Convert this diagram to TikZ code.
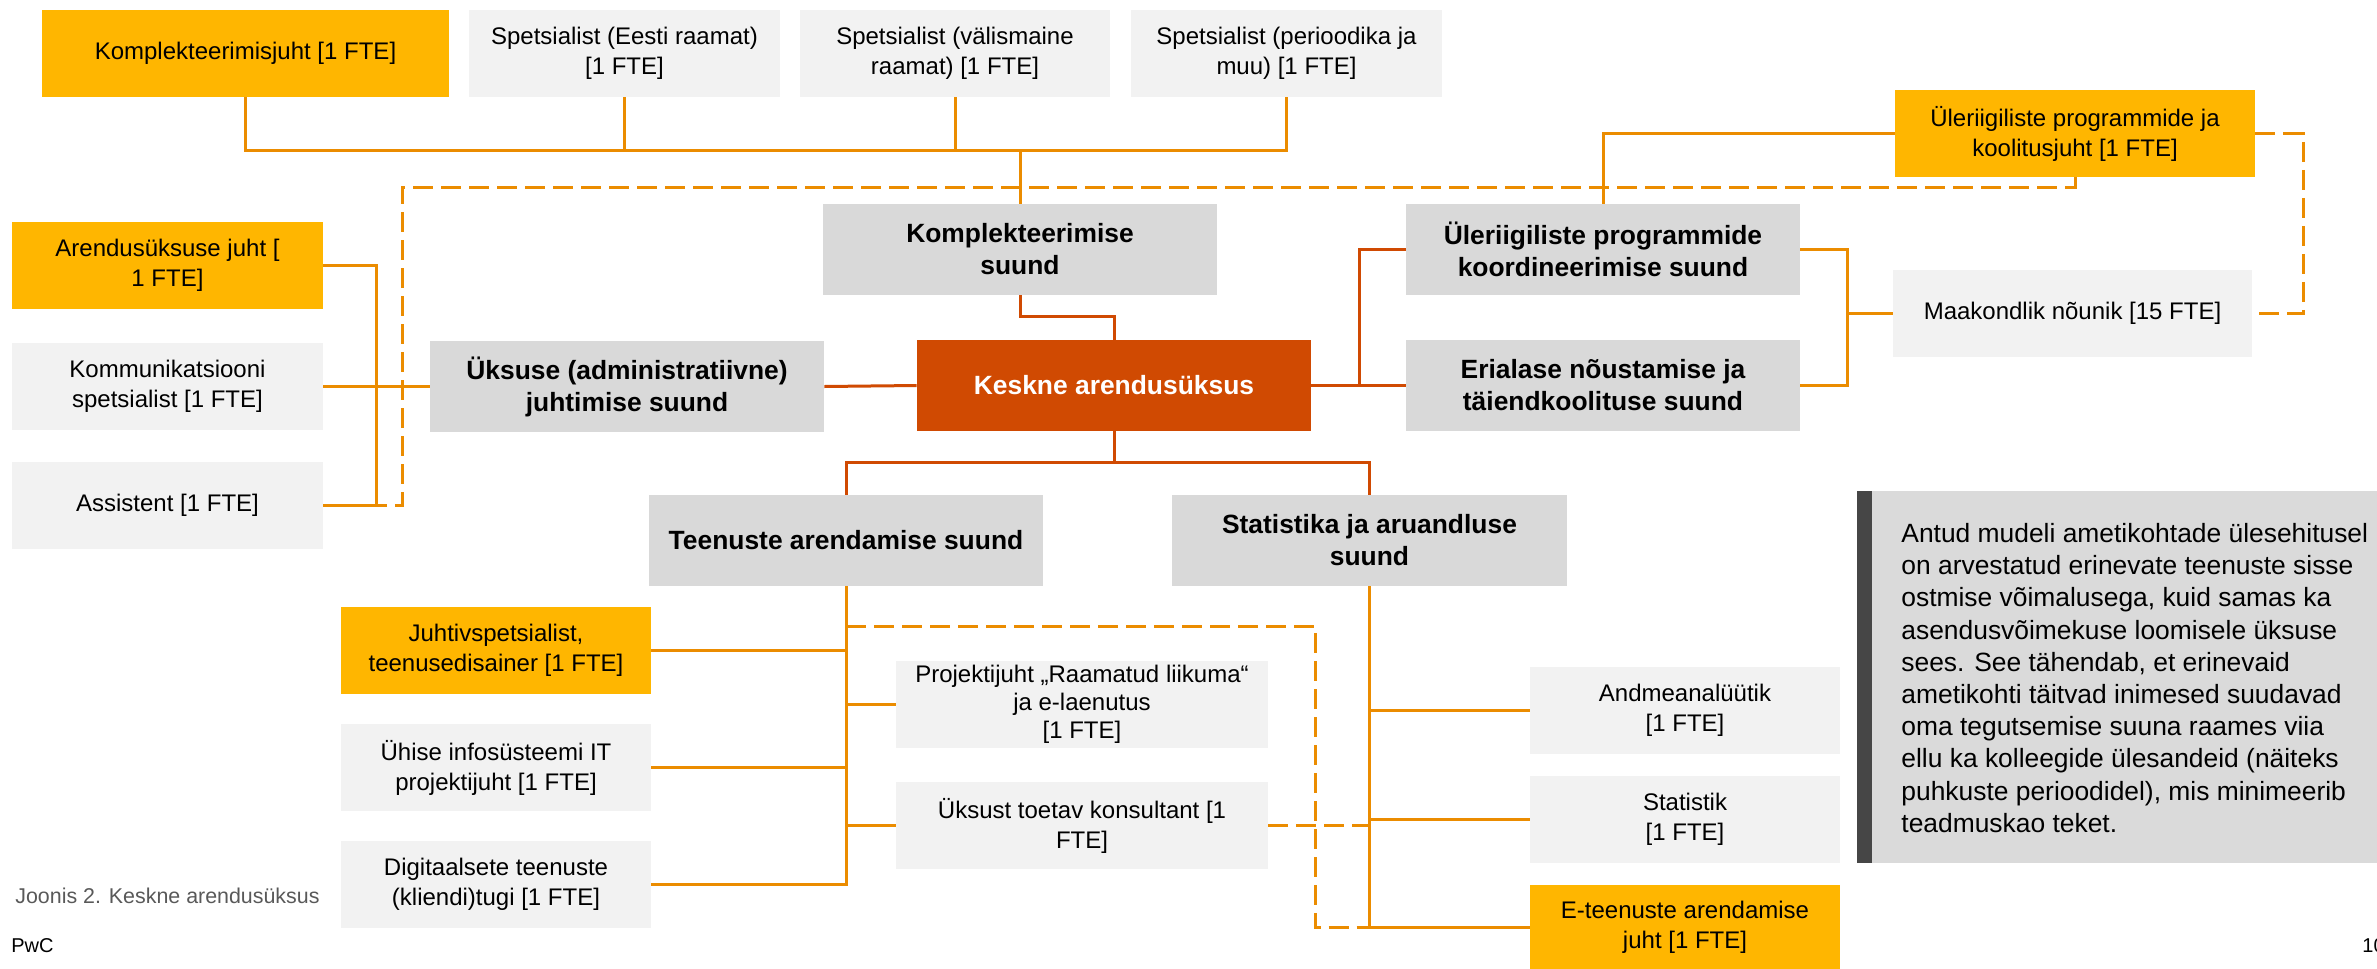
\documentclass[tikz,border=0pt]{standalone}
\usepackage{fontspec}
\setmainfont{Liberation Sans}
\usetikzlibrary{calc}
\definecolor{pwcyellow}{HTML}{FFB600}
\definecolor{pwcorange}{HTML}{D04A02}
\definecolor{lineorange}{HTML}{EB8C00}
\definecolor{lightbg}{HTML}{F2F2F2}
\definecolor{midbg}{HTML}{D9D9D9}
\definecolor{notebg}{HTML}{DADADA}
\definecolor{notebar}{HTML}{464646}
\definecolor{capgray}{HTML}{595959}
\newcommand{\mybox}[7]{\node[#1, minimum width={(#4-#2)*0.5pt}, minimum height={(#5-#3)*0.5pt}] (#6) at ({(#2+#4)/2},{(#3+#5)/2}) {#7};}
\tikzset{
  box/.style={inner sep=0pt, align=center, text=black, font=\fontsize{12}{15}\selectfont},
  yel/.style={box, fill=pwcyellow},
  lgt/.style={box, fill=lightbg},
  mid/.style={box, fill=midbg, font=\bfseries\fontsize{13.2}{16}\selectfont},
  core/.style={box, fill=pwcorange, text=white, font=\bfseries\fontsize{13.2}{16}\selectfont},
  ln/.style={draw=lineorange, line width=1.5pt},
  dln/.style={draw=pwcorange, line width=1.5pt},
  dsh/.style={draw=lineorange, line width=1.5pt, dash pattern=on 10pt off 4pt},
  plain/.style={inner sep=0pt, anchor=west}
}
\begin{document}
\begin{tikzpicture}[x=0.5pt, y=-0.5pt]
\useasboundingbox (0,0) rectangle (2377,969);
% boxes
\mybox{yel}{42}{10}{449}{97}{kj}{Komplekteerimisjuht [1 FTE]}
\mybox{lgt}{469}{10}{780}{97}{s1}{Spetsialist (Eesti raamat)\\{}[1 FTE]}
\mybox{lgt}{800}{10}{1110}{97}{s2}{Spetsialist (välismaine\\raamat) [1 FTE]}
\mybox{lgt}{1131}{10}{1442}{97}{s3}{Spetsialist (perioodika ja\\muu) [1 FTE]}
\mybox{yel}{1895}{90}{2255}{177}{uk}{Üleriigiliste programmide ja\\koolitusjuht [1 FTE]}
\mybox{yel}{12}{222}{323}{309}{aj}{Arendusüksuse juht [\\1 FTE]}
\mybox{mid}{823}{204}{1217}{295}{ks}{Komplekteerimise\\suund}
\mybox{mid}{1406}{204}{1800}{295}{upk}{Üleriigiliste programmide\\koordineerimise suund}
\mybox{lgt}{1893}{270}{2252}{357}{mn}{Maakondlik nõunik [15 FTE]}
\mybox{lgt}{12}{343}{323}{430}{kom}{Kommunikatsiooni\\spetsialist [1 FTE]}
\mybox{mid}{430}{341}{824}{432}{ua}{Üksuse (administratiivne)\\juhtimise suund}
\mybox{core}{917}{340}{1311}{431}{ka}{Keskne arendusüksus}
\mybox{mid}{1406}{340}{1800}{431}{en}{Erialase nõustamise ja\\täiendkoolituse suund}
\mybox{lgt}{12}{462}{323}{549}{as}{Assistent [1 FTE]}
\mybox{mid}{649}{495}{1043}{586}{ta}{Teenuste arendamise suund}
\mybox{mid}{1172}{495}{1567}{586}{st}{Statistika ja aruandluse\\suund}
\mybox{yel}{341}{607}{651}{694}{js}{Juhtivspetsialist,\\teenusedisainer [1 FTE]}
\mybox{lgt, font=\fontsize{12}{14}\selectfont}{896}{661}{1268}{748}{pj}{Projektijuht „Raamatud liikuma“\\ja e-laenutus\\{}[1 FTE]}
\mybox{lgt}{341}{724}{651}{811}{ih}{Ühise infosüsteemi IT\\projektijuht [1 FTE]}
\mybox{lgt}{896}{782}{1268}{869}{ut}{Üksust toetav konsultant [1\\FTE]}
\mybox{lgt}{341}{841}{651}{928}{dt}{Digitaalsete teenuste\\(kliendi)tugi [1 FTE]}
\mybox{lgt}{1530}{667}{1840}{754}{aa}{Andmeanalüütik\\{}[1 FTE]}
\mybox{lgt}{1530}{776}{1840}{863}{sk}{Statistik\\{}[1 FTE]}
\mybox{yel}{1530}{885}{1840}{970}{et}{E-teenuste arendamise\\juht [1 FTE]}
% note box
\fill[notebar] (1857,491) rectangle (1872,863);
\fill[notebg] (1872,491) rectangle (2377,863);
\node[plain, align=left, font=\fontsize{13.2}{16.1}\selectfont] (note) at (1901,678) {Antud mudeli ametikohtade ülesehitusel\\on arvestatud erinevate teenuste sisse\\ostmise võimalusega, kuid samas ka\\asendusvõimekuse loomisele üksuse\\sees. See tähendab, et erinevaid\\ametikohti täitvad inimesed suudavad\\oma tegutsemise suuna raames viia\\ellu ka kolleegide ülesandeid (näiteks\\puhkuste perioodidel), mis minimeerib\\teadmuskao teket.};
% captions
\node[plain, text=capgray, font=\fontsize{10.7}{13}\selectfont] (cap) at (15,896) {Joonis 2. Keskne arendusüksus};
\node[plain, font=\fontsize{10}{12}\selectfont] (pwc) at (11,946) {PwC};
\node[plain, font=\fontsize{10}{12}\selectfont] (pg) at (2362,946) {10};
% coordinates
\coordinate (bus) at (1020,150);
\coordinate (bj) at (1114,316);
\coordinate (dj) at (1359,385.5);
\coordinate (ej) at (1114,462);
\coordinate (gj) at (1847,313.5);
\coordinate (hj) at (2303,133.5);
\coordinate (i1) at (402,187);
\coordinate (jx) at (376,266);
\coordinate (l1) at (846,626);
\coordinate (l2) at (1315,626);
% dashed connectors
\draw[dsh] (uk.south) |- (i1) |- (as.east);
\draw[dsh] (uk.east) -- (hj) |- (mn.east);
\draw[dsh] (l1) -- (l2) |- (et.west);
\draw[dsh] (ut.east) -- (ut.east -| st.south);
% top bus
\draw[ln] (kj.south) |- (bus) -- (ks.north);
\draw[ln] (s1.south) -- (s1.south |- bus);
\draw[ln] (s2.south) -- (s2.south |- bus);
\draw[ln] (s3.south) |- (bus);
% core connectors
\draw[dln] (ks.south) |- (bj) -- (ka.north);
\draw[dln] (ua.east) -- (ka.west);
\draw[dln] (ka.east) -- (en.west);
\draw[dln] (upk.west) -| (dj);
\draw[dln] (ka.south) -- (ej);
\draw[dln] (ta.north) |- (ej);
\draw[dln] (st.north) |- (ej);
% right side
\draw[ln] (uk.west) -| (upk.north);
\draw[ln] (upk.east) -| (gj) |- (en.east);
\draw[ln] (gj) -- (mn.west);
% left side
\draw[ln] (aj.east) -| (jx |- as.east) -- (as.east);
\draw[ln] (kom.east) -- (ua.west);
% teenuste branch
\draw[ln] (ta.south) |- (dt.east);
\draw[ln] (js.east) -- (js.east -| ta.south);
\draw[ln] (ih.east) -- (ih.east -| ta.south);
\draw[ln] (pj.west) -- (pj.west -| ta.south);
\draw[ln] (ut.west) -- (ut.west -| ta.south);
% statistika branch
\draw[ln] (st.south) |- (et.west);
\draw[ln] (aa.west) -- (aa.west -| st.south);
\draw[ln] (sk.west) -- (sk.west -| st.south);
\end{tikzpicture}
\end{document}
